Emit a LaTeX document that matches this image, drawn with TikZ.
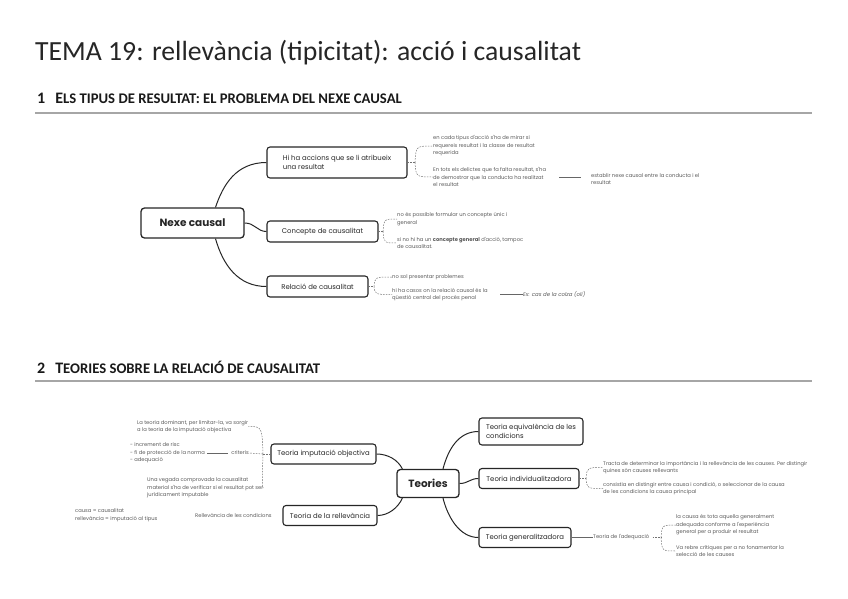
\documentclass[tikz,border=0pt]{standalone}
\usepackage{fontspec}
\setmainfont{Carlito}
\newfontfamily\mm{Poppins}
\newfontfamily\pop{Poppins}
\begin{document}
\begin{tikzpicture}[x=1pt,y=-1pt,
  box/.style={draw=black!85, line width=1.1pt, rounded corners=3pt, fill=white,
    font=\mm\fontsize{6.9}{9}\selectfont, text=black!85, align=left, inner xsep=5pt, inner ysep=2pt},
  rootbox/.style={draw=black!85, line width=1.3pt, rounded corners=3.5pt, fill=white,
    font=\pop\bfseries\fontsize{10.5}{12}\selectfont, text=black!85, align=center},
  leaf/.style={font=\mm\fontsize{5.2}{7.6}\selectfont, text=black!65, anchor=west, align=left, inner sep=0pt},
  conn/.style={draw=black!85, line width=1pt},
  thin/.style={draw=black!60, line width=0.5pt},
  brc/.style={draw=black!55, line width=0.5pt, dash pattern=on 1.6pt off 1.2pt},
  rule/.style={draw=black!35, line width=1.6pt}
]
\useasboundingbox (0,0) rectangle (848,599);

% ---------- titles ----------
\node[anchor=base west, inner sep=0pt, font=\fontsize{27.7}{30}\selectfont, text=black!85] (title) at (35,61)
  {TEMA 19: rellevància (tipicitat): acció i causalitat};
\node[anchor=base west, inner sep=0pt, font=\bfseries, text=black!90] (h1) at (37,104)
  {{\fontsize{16}{16}\selectfont 1}\hspace{10pt}{\fontsize{16}{16}\selectfont E}{\fontsize{14.7}{15}\selectfont LS TIPUS DE RESULTAT: EL PROBLEMA DEL NEXE CAUSAL}};
\coordinate (r1a) at (35,113);
\coordinate (r1b) at (812,113);
\draw[rule] (r1a) -- (r1b);
\node[anchor=base west, inner sep=0pt, font=\bfseries, text=black!90] (h2) at (37,373)
  {{\fontsize{16}{16}\selectfont 2}\hspace{10pt}{\fontsize{16}{16}\selectfont T}{\fontsize{14.7}{15}\selectfont EORIES SOBRE LA RELACIÓ DE CAUSALITAT}};
\coordinate (r2a) at (35,381);
\coordinate (r2b) at (812,381);
\draw[rule] (r2a) -- (r2b);

% ---------- map 1 ----------
\node[rootbox, minimum width=103pt, minimum height=30pt] (nexe) at (192.5,223) {Nexe causal};
\node[box, minimum width=140pt, minimum height=31pt] (acc) at (337,162.5) {Hi ha accions que se li atribueix\\una resultat};
\node[box, minimum width=111pt, minimum height=21pt] (conc) at (322.5,231.5) {Concepte de causalitat};
\node[box, minimum width=101pt, minimum height=21pt] (rel) at (317.5,286.5) {Relació de causalitat};

\draw[conn] (nexe.north) ++(23,0) coordinate (n1) .. controls (223,185) and (236,162.5) .. (acc.west);
\draw[conn] (nexe.east) .. controls (255,223) and (257,231.5) .. (conc.west);
\draw[conn] (nexe.south) ++(23,0) coordinate (n3) .. controls (223,265) and (238,286.5) .. (rel.west);

% acc children
\node[leaf] (a1) at (433,146) {en cada tipus d'acció s'ha de mirar si\\requereix resultat i la classe de resultat\\requerida};
\node[leaf] (a2) at (433,177) {En tots els delictes que fa falta resultat, s'ha\\de demostrar que la conducta ha realitzat\\el resultat};
\node[leaf] (a3) at (591,179) {establir nexe causal entre la conducta i el\\resultat};
\coordinate (ab) at (415,162.5);
\draw[brc] (acc.east) -- (ab);
\draw[brc] (ab) .. controls (416,146) .. (a1.west);
\draw[brc] (ab) .. controls (416,177) .. (a2.west);
\coordinate (a3l) at (559,177);
\coordinate (a3r) at (581,177);
\draw[thin] (a3l) -- (a3r);

% conc children
\node[leaf] (c1) at (397,219) {no és possible formular un concepte únic i\\general};
\node[leaf] (c2) at (397,243) {si no hi ha un \textbf{concepte general} d'acció, tampoc\\de causalitat.};
\coordinate (cb) at (383,231.5);
\draw[brc] (conc.east) -- (cb);
\draw[brc] (cb) .. controls (384,219) .. (c1.west);
\draw[brc] (cb) .. controls (384,243) .. (c2.west);

% rel children
\node[leaf] (e1) at (392,277) {no sol presentar problemes};
\node[leaf] (e2) at (392,294.5) {hi ha casos on la relació causal és la\\qüestió central del procés penal};
\node[leaf, font=\mm\itshape\fontsize{5.4}{8}\selectfont] (e3) at (523,294.5) {Ex: cas de la colza (oli)};
\coordinate (eb) at (374,286.5);
\draw[brc] (rel.east) -- (eb);
\draw[brc] (eb) .. controls (375,277) .. (e1.west);
\draw[brc] (eb) .. controls (375,294.5) .. (e2.west);
\coordinate (e3l) at (500,294.5);
\draw[thin] (e3l) -- (e3.west);

% ---------- map 2 ----------
\node[rootbox, minimum width=62pt, minimum height=28pt] (teo) at (428,483.5) {Teories};
\node[box, minimum width=104pt, minimum height=27pt] (equi) at (531,431.5) {Teoria equivalència de les\\condicions};
\node[box, minimum width=100pt, minimum height=20pt] (ind) at (529,478.5) {Teoria individualitzadora};
\node[box, minimum width=92pt, minimum height=20pt] (gen) at (525,537.5) {Teoria generalitzadora};
\node[box, minimum width=105pt, minimum height=20pt] (imp) at (323.5,454) {Teoria imputació objectiva};
\node[box, minimum width=94pt, minimum height=20pt] (rlv) at (330,515.5) {Teoria de la rellevància};

\draw[conn] (teo.north) ++(15,0) .. controls (448,450) and (458,431.5) .. (equi.west);
\draw[conn] (teo.east) .. controls (468,483.5) and (470,478.5) .. (ind.west);
\draw[conn] (teo.south) ++(15,0) .. controls (448,518) and (460,537.5) .. (gen.west);
\draw[conn] (teo.north west) ++(6,0) .. controls (398,460) and (388,454) .. (imp.east);
\draw[conn] (teo.south west) ++(6,0) .. controls (398,508) and (388,515.5) .. (rlv.east);

% ind children
\node[leaf] (i1) at (603,467.5) {Tracta de determinar la importància i la rellevància de les causes. Per distingir\\quines són causes rellevants};
\node[leaf] (i2) at (603,488.5) {consistia en distingir entre causa i condició, o seleccionar de la causa\\de les condicions la causa principal};
\coordinate (ib) at (586,478.5);
\draw[brc] (ind.east) -- (ib);
\draw[brc] (ib) .. controls (587,467.5) .. (i1.west);
\draw[brc] (ib) .. controls (587,488.5) .. (i2.west);

% gen children
\node[leaf] (g1) at (593,537.5) {Teoria de l'adequació};
\draw[thin] (gen.east) -- (g1.west);
\node[leaf] (g2) at (676,525) {la causa és tota aquella generalment\\adequada conforme a l'experiència\\general per a produir el resultat};
\node[leaf] (g3) at (676,551) {Va rebre crítiques per a no fonamentar la\\selecció de les causes};
\coordinate (gb) at (661,537.5);
\draw[brc] (g1.east) ++(3,0) -- (gb);
\draw[brc] (gb) .. controls (662,525) .. (g2.west);
\draw[brc] (gb) .. controls (662,551) .. (g3.west);

% imp children (left side)
\node[leaf, anchor=west] (p1) at (137,426.5) {La teoria dominant, per limitar-la, va sorgir\\a la teoria de la imputació objectiva};
\node[leaf, anchor=east] (p2) at (249,453) {criteris};
\node[leaf, anchor=west] (p3) at (130,453) {- increment de risc\\- fi de protecció de la norma\\- adequació};
\node[leaf, anchor=west] (p4) at (147,488) {Una vegada comprovada la causalitat\\material s'ha de verificar si el resultat pot ser\\jurídicament imputable};
\coordinate (pb) at (263,454);
\draw[brc] (imp.west) -- (pb);
\draw[brc] (pb) .. controls (262,426.5) .. (p1.east);
\draw[brc] (pb) -- (p2.east);
\draw[brc] (pb) .. controls (262,488) .. (p4.east);
\coordinate (p3r) at (207,453);
\draw[thin] (p3r) -- ([xshift=-3pt]p2.west);

% rellevancia texts
\node[leaf] (q1) at (195,515) {Rellevància de les condicions};
\node[leaf] (q2) at (75,515) {causa = causalitat\\rellevància = imputació al tipus};
\end{tikzpicture}
\end{document}
